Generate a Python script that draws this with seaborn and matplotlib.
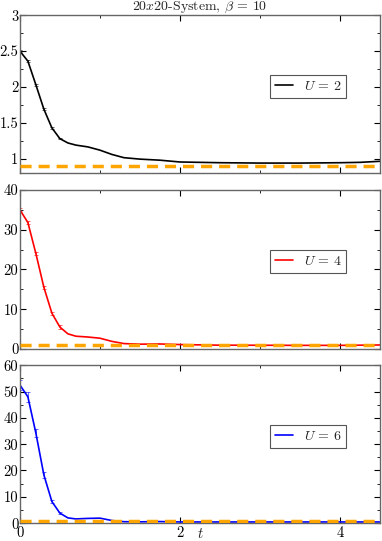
import matplotlib
matplotlib.use("Agg")
import matplotlib.pyplot as plt
from matplotlib.ticker import MultipleLocator, FuncFormatter
import seaborn as sns

# time grid
t = [0, 0.1, 0.2, 0.3, 0.4, 0.5, 0.6, 0.7, 0.85, 1.0, 1.15, 1.3, 1.5, 1.75,
     2.0, 2.5, 3.0, 3.5, 4.0, 4.25, 4.5]
u2 = [2.5, 2.36, 2.03, 1.69, 1.43, 1.28, 1.22, 1.19, 1.165, 1.12, 1.06, 1.015,
      0.995, 0.98, 0.955, 0.945, 0.94, 0.94, 0.945, 0.95, 0.965]
u4 = [35, 31.8, 24, 15.5, 9, 5.5, 3.8, 3.2, 3.0, 2.7, 1.9, 1.35, 1.2, 1.25,
      1.1, 0.95, 0.93, 0.9, 0.9, 0.95, 1.0]
u6 = [52.5, 48, 34.2, 18.3, 8.2, 3.8, 2.0, 1.6, 1.8, 1.9, 1.0, 0.55, 0.5, 0.6,
      0.45, 0.45, 0.45, 0.45, 0.45, 0.45, 0.45]

# error bars on the first few points
t_err = [0, 0.1, 0.2, 0.3, 0.4, 0.5]
u2_err = [0.01, 0.01, 0.01, 0.01, 0.01, 0.01]
u4_err = [0.4, 0.4, 0.4, 0.4, 0.4, 0.4]
u6_err = [2.0, 1.8, 1.4, 1.0, 0.7, 0.5]

reference = 0.9

panels = [
    (u2, u2_err, "black", r"$U\,=\,2$", (0.8, 3), 0.5, 0.25),
    (u4, u4_err, "red", r"$U\,=\,4$", (0, 40), 10, 5),
    (u6, u6_err, "blue", r"$U\,=\,6$", (0, 60), 10, 5),
]

sns.set_style("ticks")
plt.rcParams.update({
    "font.family": "serif",
    "font.serif": ["cmr10", "DejaVu Serif"],
    "mathtext.fontset": "cm",
    "axes.formatter.use_mathtext": True,
    "axes.unicode_minus": False,
    "font.size": 10.5,
    "xtick.direction": "in",
    "ytick.direction": "in",
    "xtick.top": True,
    "ytick.right": True,
    "xtick.major.size": 4,
    "ytick.major.size": 4,
    "xtick.minor.size": 2,
    "ytick.minor.size": 2,
    "xtick.major.pad": 2,
    "ytick.major.pad": 1,
})

fig = plt.figure(figsize=(3.82, 5.41), dpi=100)
boxes = [(0.052, 0.680, 0.943, 0.292),
         (0.052, 0.355, 0.943, 0.294),
         (0.052, 0.033, 0.943, 0.292)]

fmt = FuncFormatter(lambda v, p: "%g" % v)

for i, (vals, errs, col, lab, ylim, major, minor) in enumerate(panels):
    ax = fig.add_axes(boxes[i])
    sns.lineplot(x=t, y=vals, ax=ax, color=col, lw=1.2, label=lab)
    ax.errorbar(t_err, vals[:6], yerr=errs, fmt="none", ecolor=col,
                elinewidth=0.6, capsize=1.5, capthick=0.6, alpha=0.7)
    ax.axhline(reference, color="#FFA500", lw=2.5,
               linestyle=(0, (3.2, 2.0)), zorder=5)
    ax.set_xlim(0, 4.5)
    ax.set_ylim(*ylim)
    ax.xaxis.set_major_locator(MultipleLocator(2))
    ax.xaxis.set_minor_locator(MultipleLocator(1))
    ax.yaxis.set_major_locator(MultipleLocator(major))
    ax.yaxis.set_minor_locator(MultipleLocator(minor))
    ax.yaxis.set_major_formatter(fmt)
    ax.xaxis.set_major_formatter(fmt)
    for s in ax.spines.values():
        s.set_color("#666666")
        s.set_linewidth(1.0)
    ax.tick_params(which="both", colors="black", labelcolor="black")
    leg = ax.legend(loc="center", bbox_to_anchor=(0.8, 0.55), fancybox=False,
                    edgecolor="#555555", framealpha=1, fontsize=10,
                    handlelength=1.3, borderpad=0.35, handletextpad=0.8)
    leg.get_frame().set_linewidth(0.8)
    if i < 2:
        ax.tick_params(labelbottom=False)
    else:
        ax.set_xlabel(r"$t$", fontsize=10.5)
        ax.xaxis.set_label_coords(0.5, -0.025)
    if i == 0:
        ax.set_title(r"20$x$20-System, $\beta\,=\,10$", fontsize=10, pad=1)

fig.savefig("out.png", dpi=100)
